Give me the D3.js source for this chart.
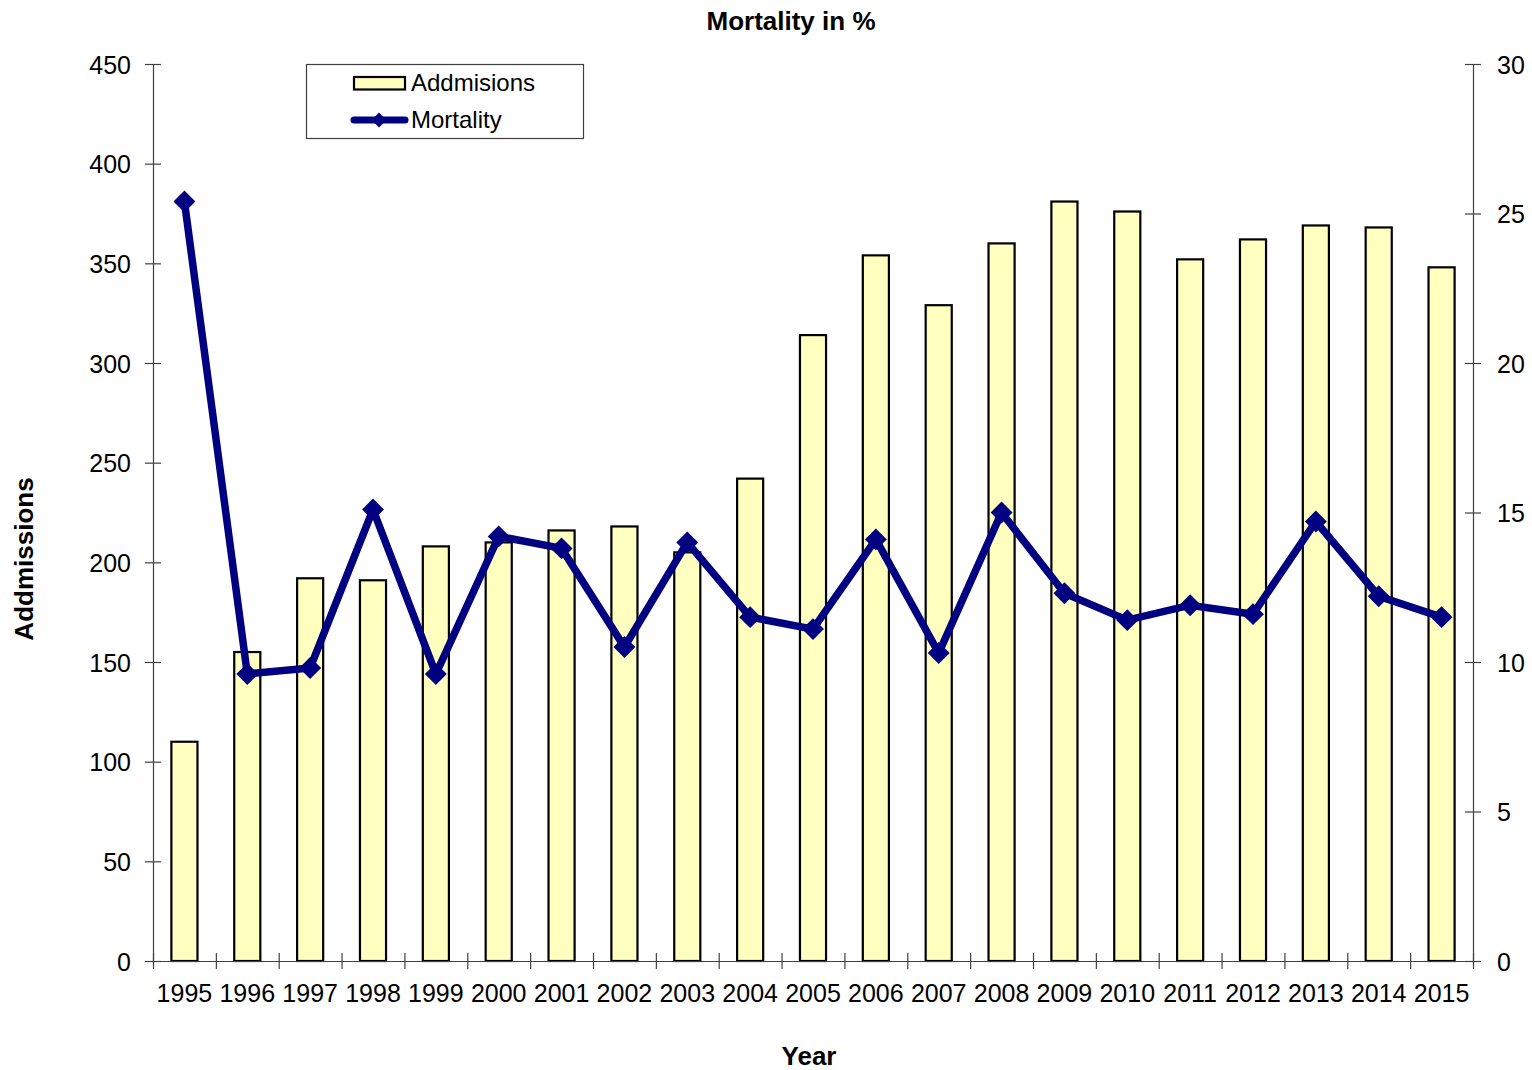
<!DOCTYPE html>
<html>
<head>
<meta charset="utf-8">
<script src="https://cdn.jsdelivr.net/npm/d3@7"></script>
<style>
  html, body { margin: 0; padding: 0; background: #fff; }
  svg text { font-family: "Liberation Sans", Arial, sans-serif; fill: #000; }
</style>
</head>
<body>
<svg id="chart" width="1532" height="1070"></svg>
<script>
// Yearly admissions and mortality rate
const years = ["1995","1996","1997","1998","1999","2000","2001","2002","2003","2004","2005",
               "2006","2007","2008","2009","2010","2011","2012","2013","2014","2015"];
const admissions = [110,155,192,191,208,210,216,218,205,242,314,354,329,360,381,376,352,362,369,368,348];
const mortality = [25.4,9.6,9.8,15.1,9.6,14.2,13.8,10.5,14.0,11.5,11.1,14.1,10.3,15.0,12.3,11.4,11.9,11.6,14.7,12.2,11.5];
const leftTicks = [0,50,100,150,200,250,300,350,400,450];
const rightTicks = [0,5,10,15,20,25,30];

const plot = { left: 153, right: 1473, top: 64, bottom: 961 };
const svg = d3.select("#chart");

const x = d3.scaleBand().domain(years).range([plot.left, plot.right]).padding(0);
const xIdx = d3.scaleLinear().domain([0, years.length]).range([plot.left, plot.right]);
const yL = d3.scaleLinear().domain([0, 450]).range([plot.bottom, plot.top]);
const yR = d3.scaleLinear().domain([0, 30]).range([plot.bottom, plot.top]);
const barW = x.bandwidth() * 0.415;
const cx = d => x(d) + x.bandwidth() / 2;

// Bars
svg.append("g").selectAll("rect").data(years).join("rect")
  .attr("x", (d) => cx(d) - barW / 2)
  .attr("y", (d, i) => yL(admissions[i]))
  .attr("width", barW)
  .attr("height", (d, i) => yL(0) - yL(admissions[i]))
  .attr("fill", "#ffffc0")
  .attr("stroke", "#000")
  .attr("stroke-width", 2.2);

// Axes
const axisColor = "#404040";
const tickFont = "25px";
function styleAxis(g) {
  g.select(".domain").attr("stroke", axisColor).attr("stroke-width", 1.2);
  g.selectAll(".tick line").attr("stroke", axisColor).attr("stroke-width", 1.2);
}

const gL = svg.append("g").attr("transform", `translate(${plot.left},0)`)
  .call(d3.axisLeft(yL).tickValues(leftTicks).tickSize(8).tickSizeOuter(0).tickPadding(0));
styleAxis(gL);
gL.selectAll(".tick line").attr("x1", 8).attr("x2", -8);
gL.selectAll(".tick text").attr("x", -22).attr("dy", "0.36em")
  .style("font-size", tickFont).style("font-family", "'Liberation Sans', Arial, sans-serif");

const gR = svg.append("g").attr("transform", `translate(${plot.right},0)`)
  .call(d3.axisRight(yR).tickValues(rightTicks).tickSize(8).tickSizeOuter(0).tickPadding(0));
styleAxis(gR);
gR.selectAll(".tick line").attr("x1", -8).attr("x2", 8);
gR.selectAll(".tick text").attr("x", 24).attr("dy", "0.36em")
  .style("font-size", tickFont).style("font-family", "'Liberation Sans', Arial, sans-serif");

const gB = svg.append("g").attr("transform", `translate(0,${plot.bottom})`)
  .call(d3.axisBottom(xIdx).tickValues(d3.range(0, years.length + 1)).tickFormat("").tickSize(8).tickSizeOuter(0));
styleAxis(gB);
gB.selectAll(".tick line").attr("y1", -8).attr("y2", 8);
gB.select(".domain").attr("d", `M${plot.left - 8},0.5H${plot.right + 8}`);

// Year labels
svg.append("g").selectAll("text").data(years).join("text")
  .attr("x", d => cx(d))
  .attr("y", 1002)
  .attr("text-anchor", "middle")
  .style("font-size", tickFont)
  .text(d => d);

// Mortality line
const line = d3.line().x((d, i) => cx(years[i])).y(d => yR(d));
svg.append("path").datum(mortality)
  .attr("d", line)
  .attr("fill", "none")
  .attr("stroke", "#000080")
  .attr("stroke-width", 7.5)
  .attr("stroke-linejoin", "miter");

svg.append("g").selectAll("path").data(mortality).join("path")
  .attr("transform", (d, i) => `translate(${cx(years[i])},${yR(d)}) rotate(45)`)
  .attr("d", d3.symbol().type(d3.symbolSquare).size(240))
  .attr("fill", "#000080");

// Titles
svg.append("text").attr("x", 791).attr("y", 30).attr("text-anchor", "middle")
  .style("font-size", "26px").style("font-weight", "bold").text("Mortality in %");
svg.append("text").attr("x", 809).attr("y", 1065).attr("text-anchor", "middle")
  .style("font-size", "26px").style("font-weight", "bold").text("Year");
svg.append("text").attr("transform", "translate(33,559) rotate(-90)").attr("text-anchor", "middle")
  .style("font-size", "26px").style("font-weight", "bold").text("Addmissions");

// Legend
const lg = svg.append("g");
lg.append("rect").attr("x", 306.5).attr("y", 64.5).attr("width", 277).attr("height", 74)
  .attr("fill", "#fff").attr("stroke", "#404040").attr("stroke-width", 1.2);
lg.append("rect").attr("x", 354).attr("y", 77).attr("width", 51).attr("height", 12.5)
  .attr("fill", "#ffffc0").attr("stroke", "#000").attr("stroke-width", 2.2);
lg.append("text").attr("x", 411).attr("y", 91).style("font-size", "24px").text("Addmisions");
lg.append("line").attr("x1", 354).attr("x2", 405).attr("y1", 120).attr("y2", 120)
  .attr("stroke", "#000080").attr("stroke-width", 7).attr("stroke-linecap", "round");
lg.append("path").attr("transform", "translate(379,120) rotate(45)")
  .attr("d", d3.symbol().type(d3.symbolSquare).size(110)).attr("fill", "#000080");
lg.append("text").attr("x", 411).attr("y", 128).style("font-size", "24px").text("Mortality");
</script>
</body>
</html>
